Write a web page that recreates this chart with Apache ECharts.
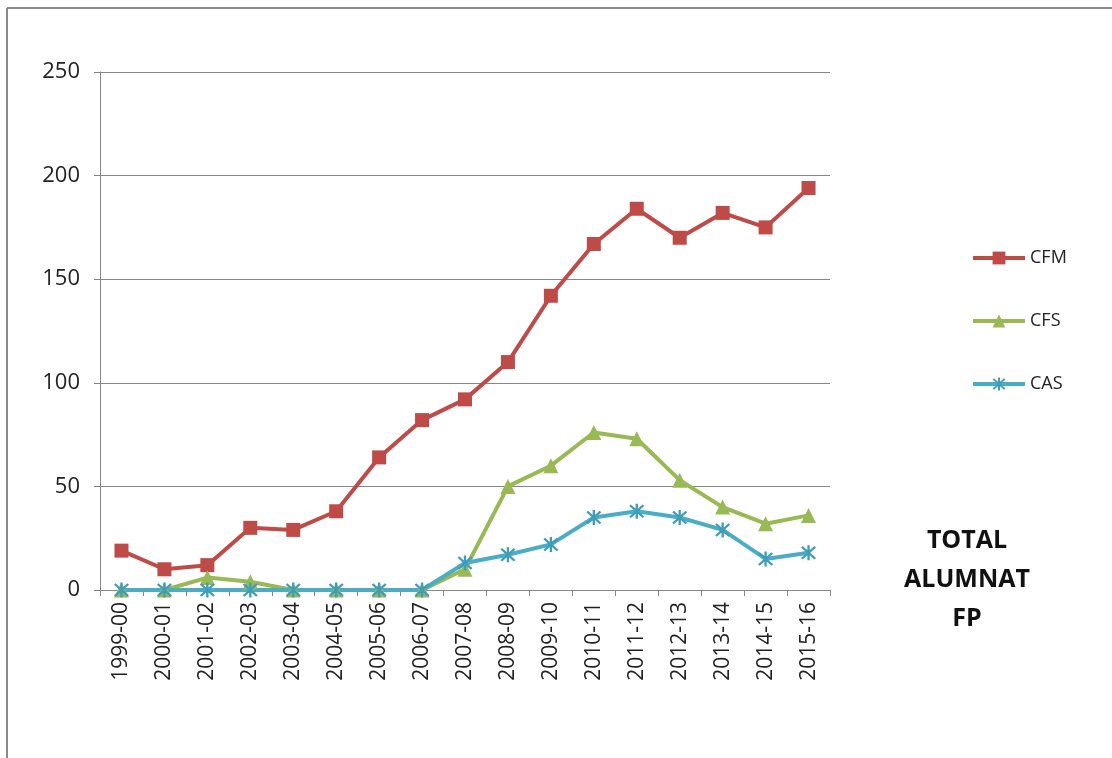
<!DOCTYPE html>
<html>
<head>
<meta charset="utf-8">
<script src="https://cdn.jsdelivr.net/npm/echarts@6/dist/echarts.min.js"></script>
<style>
html,body{margin:0;padding:0;background:#fff;}
#chart{width:1112px;height:758px;}
</style>
</head>
<body>
<div id="chart"></div>
<script>
var categories = ['1999-00','2000-01','2001-02','2002-03','2003-04','2004-05','2005-06','2006-07','2007-08','2008-09','2009-10','2010-11','2011-12','2012-13','2013-14','2014-15','2015-16'];
var cfm = [19, 10, 12, 30, 29, 38, 64, 82, 92, 110, 142, 167, 184, 170, 182, 175, 194];
var cfs = [0, 0, 6, 4, 0, 0, 0, 0, 10, 50, 60, 76, 73, 53, 40, 32, 36];
var cas = [0, 0, 0, 0, 0, 0, 0, 0, 13, 17, 22, 35, 38, 35, 29, 15, 18];
var yTicks = [0, 50, 100, 150, 200, 250];
var titleText = 'TOTAL\nALUMNAT\nFP';

var starPath = 'path://M-0.7,-5 L0.7,-5 L0.7,5 L-0.7,5 Z M-3.5,-4.5 L4.5,3.5 L3.5,4.5 L-4.5,-3.5 Z M-4.5,3.5 L3.5,-4.5 L4.5,-3.5 L-3.5,4.5 Z';

var chart = echarts.init(document.getElementById('chart'));
var font = '"Open Sans", "DejaVu Sans", sans-serif';
chart.setOption({
  animation: false,
  backgroundColor: '#fff',
  textStyle: {fontFamily: font},
  grid: {left: 100, right: 282, top: 72, bottom: 168},
  legend: {
    orient: 'vertical',
    left: 966,
    top: 244,
    itemWidth: 52,
    itemHeight: 16,
    itemGap: 45,
    lineStyle: {width: 4},
    textStyle: {fontSize: 18, color: '#222', fontFamily: font},
    data: ['CFM', 'CFS', 'CAS']
  },
  graphic: [
    {type: 'line', shape: {x1: 7, y1: 8, x2: 1112, y2: 8}, style: {stroke: '#8a8a8a', lineWidth: 2}},
    {type: 'line', shape: {x1: 7, y1: 8, x2: 7, y2: 758}, style: {stroke: '#8a8a8a', lineWidth: 2}},
    {type: 'text', style: {
      text: titleText, x: 967, y: 521, textAlign: 'center', fontSize: 25, fontWeight: 'bold',
      lineHeight: 39, fill: '#111', fontFamily: font
    }}
  ],
  xAxis: {
    type: 'category',
    data: categories,
    boundaryGap: true,
    axisLine: {lineStyle: {color: '#868686', width: 1}},
    axisTick: {show: true, length: 6, lineStyle: {color: '#868686'}},
    axisLabel: {rotate: 90, fontSize: 21, color: '#222', margin: 12, interval: 0}
  },
  yAxis: {
    type: 'value',
    min: yTicks[0],
    max: yTicks[yTicks.length - 1],
    interval: 50,
    axisLine: {show: true, lineStyle: {color: '#868686', width: 1}},
    axisTick: {show: true, length: 6, lineStyle: {color: '#868686'}},
    axisLabel: {fontSize: 22, color: '#222', margin: 20},
    splitLine: {lineStyle: {color: '#868686', width: 1}}
  },
  series: [
    {name: 'CFM', type: 'line', data: cfm, symbol: 'rect', symbolSize: 14,
     itemStyle: {color: '#BE4B48'}, lineStyle: {width: 4, color: '#BE4B48'}},
    {name: 'CFS', type: 'line', data: cfs, symbol: 'triangle', symbolSize: 15,
     itemStyle: {color: '#98B954'}, lineStyle: {width: 4, color: '#98B954'}},
    {name: 'CAS', type: 'line', data: cas, symbol: starPath, symbolSize: 15,
     itemStyle: {color: '#3F9DBA'}, lineStyle: {width: 4, color: '#4BACC6'}}
  ]
});
</script>
</body>
</html>
